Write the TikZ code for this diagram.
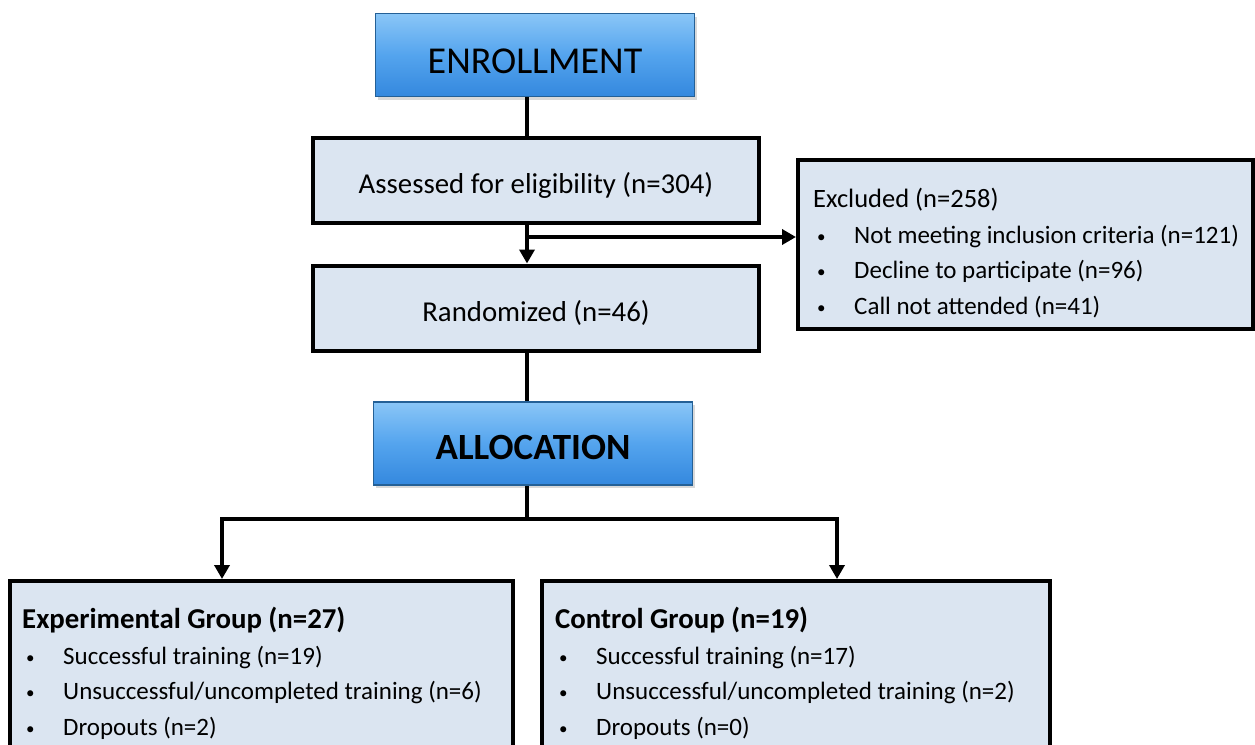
\documentclass[tikz,border=0pt]{standalone}
\usepackage{fontspec}
\setmainfont{Carlito}
\usepackage{tikz}
\usepackage{xcolor}
\usetikzlibrary{positioning, arrows.meta, shadows}

\definecolor{boxfill}{RGB}{219,229,241}
\definecolor{bluetop}{RGB}{138,198,247}
\definecolor{bluemid}{RGB}{84,164,238}
\definecolor{bluebot}{RGB}{52,136,222}
\definecolor{blueline}{RGB}{36,96,150}

\newcommand{\bitem}[1]{\hspace*{4pt}\makebox[37pt][l]{\raisebox{1pt}{\fontsize{17}{17}\selectfont\textbullet}}#1}

\begin{document}
\begin{tikzpicture}[
            x=1pt, y=-1pt,
            header/.style={draw=blueline, line width=1.5pt,
                top color=bluetop, bottom color=bluebot, middle color=bluemid,
                drop shadow={opacity=0.3, shadow xshift=2pt, shadow yshift=-3pt},
                minimum width=319pt, minimum height=83pt,
                text height=36pt, text depth=0pt,
                font=\fontsize{38}{42}\selectfont},
            stage/.style={draw, line width=4pt, fill=boxfill,
                minimum width=446pt, minimum height=85pt,
                text height=27pt, text depth=0pt,
                font=\fontsize{28.8}{32}\selectfont},
            listbox/.style={draw, line width=4pt, fill=boxfill},
            listtext/.style={anchor=north west, inner sep=0pt, align=left,
                font=\fontsize{25}{35.5}\selectfont},
            conn/.style={line width=4pt},
            arrow/.style={line width=4pt, -{Triangle[width=15pt,length=14pt]}},
        ]
            \useasboundingbox (0,0) rectangle (1255,744);
            \clip (0,0) rectangle (1255,744);

            % top part
            \node[header] (enroll) at (535,55) {ENROLLMENT};
            \node[stage] (assess) at (536,180) {Assessed for eligibility (n=304)};
            \node[stage] (rand) at (536,308) {Randomized (n=46)};
            \node[listbox, minimum width=455pt, minimum height=169pt] (excl) at (1025.5,244.5) {};
            \node[listtext] (excltext) at (813,188) {{\fontsize{26.5}{38.5}\selectfont Excluded (n=258)}\\
                \bitem{Not meeting inclusion criteria (n=121)}\\
                \bitem{Decline to participate (n=96)}\\
                \bitem{Call not attended (n=41)}};

            % allocation
            \node[header, font=\bfseries\fontsize{37}{42}\selectfont, text height=31pt] (alloc) at (533,443.5) {ALLOCATION};
            \node[listbox, minimum width=503pt, minimum height=240pt] (expbox) at (261.5,701) {};
            \node[listbox, minimum width=508pt, minimum height=240pt] (ctlbox) at (796,701) {};
            \node[listtext] (exptext) at (22,607) {\textbf{\fontsize{28.8}{37}\selectfont Experimental Group (n=27)}\\
                \bitem{Successful training (n=19)}\\
                \bitem{Unsuccessful/uncompleted training (n=6)}\\
                \bitem{Dropouts (n=2)}};
            \node[listtext] (ctltext) at (555,607) {\textbf{\fontsize{28.8}{37}\selectfont Control Group (n=19)}\\
                \bitem{Successful training (n=17)}\\
                \bitem{Unsuccessful/uncompleted training (n=2)}\\
                \bitem{Dropouts (n=0)}};

            % connectors
            \coordinate (spine) at (527,0);
            \coordinate (branch) at (527,237);
            \coordinate (split) at (527,519);
            \coordinate (expin) at (222,0);
            \coordinate (ctlin) at (837,0);
            \draw[conn] (enroll.south -| spine) -- (assess.north -| spine);
            \draw[arrow] (assess.south -| spine) -- (rand.north -| spine);
            \draw[arrow] (branch) -- (branch -| excl.west);
            \draw[conn] (rand.south -| spine) -- (alloc.north -| spine);
            \draw[conn] (alloc.south -| spine) -- (split);
            \draw[arrow] (split) -| (expbox.north -| expin);
            \draw[arrow] (split) -| (ctlbox.north -| ctlin);
        \end{tikzpicture}
\end{document}
